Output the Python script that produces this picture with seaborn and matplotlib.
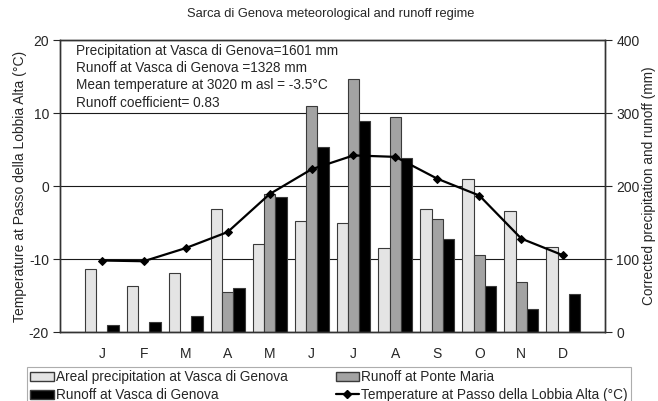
import numpy as np
import pandas as pd
import matplotlib
matplotlib.use("Agg")
import matplotlib.pyplot as plt
from matplotlib.patches import Patch
from matplotlib.lines import Line2D
import seaborn as sns

# monthly regime
months = ["Jan", "Feb", "Mar", "Apr", "May", "Jun", "Jul", "Aug", "Sep", "Oct", "Nov", "Dec"]
month_labels = ["J", "F", "M", "A", "M", "J", "J", "A", "S", "O", "N", "D"]
precip_vasca = [87, 63, 81, 168, 121, 152, 149, 115, 168, 210, 166, 116]
runoff_ponte = [np.nan, np.nan, np.nan, 55, 189, 310, 347, 294, 155, 105, 68, np.nan]
runoff_vasca = [10, 14, 22, 61, 185, 254, 289, 238, 128, 63, 31, 52]
temp_lobbia = [-10.2, -10.3, -8.5, -6.3, -1.1, 2.3, 4.2, 4.0, 1.0, -1.3, -7.2, -9.5]

series = ["Areal precipitation at Vasca di Genova", "Runoff at Ponte Maria", "Runoff at Vasca di Genova"]
temp_name = "Temperature at Passo della Lobbia Alta (°C)"
colors = ["#e4e4e4", "#a3a3a3", "#000000"]

info_lines = [
    "Precipitation at Vasca di Genova=1601 mm",
    "Runoff at Vasca di Genova =1328 mm",
    "Mean temperature at 3020 m asl = -3.5°C",
    "Runoff coefficient= 0.83",
]

bars = pd.DataFrame({
    "month": months * 3,
    "series": [series[0]] * 12 + [series[1]] * 12 + [series[2]] * 12,
    "value": precip_vasca + runoff_ponte + runoff_vasca,
})

sns.set_theme(style="white")
plt.rcParams["font.family"] = ["Liberation Sans", "DejaVu Sans"]
plt.rcParams["axes.unicode_minus"] = False

fig = plt.figure(figsize=(6.58, 4.01), dpi=100)
ax = fig.add_axes([0.0912, 0.172, 0.8283, 0.728])

sns.barplot(data=bars, x="month", y="value", hue="series", order=months, hue_order=series,
            palette=colors, width=0.81, gap=0, saturation=1, edgecolor="#3a3a3a",
            linewidth=0.8, legend=False, ax=ax)

ax2 = ax.twinx()
sns.lineplot(x=np.arange(len(months)), y=temp_lobbia, ax=ax2, color="black", lw=1.6,
             marker="D", markersize=4.5, markeredgecolor="black")

# precipitation / runoff axis on the right
ax.yaxis.tick_right()
ax.yaxis.set_label_position("right")
ax.set_ylim(0, 400)
ax.set_yticks([0, 100, 200, 300, 400])
ax.grid(axis="y", color="#1a1a1a", lw=0.8)
ax.set_axisbelow(True)
ax.set_xlabel("")
ax.set_ylabel("Corrected precipitation and runoff (mm)", fontsize=9.8, labelpad=2)
ax.set_xticks(range(len(months)))
ax.set_xticklabels(month_labels)
ax.tick_params(axis="x", length=0, pad=11, labelsize=10)
ax.tick_params(axis="y", right=True, length=5, width=0.8, direction="out", labelsize=10, pad=3)

# temperature axis on the left
ax2.yaxis.tick_left()
ax2.yaxis.set_label_position("left")
ax2.set_ylim(-20, 20)
ax2.set_yticks([-20, -10, 0, 10, 20])
ax2.set_xlabel("")
ax2.set_ylabel(temp_name, fontsize=10, labelpad=1)
ax2.tick_params(axis="y", left=True, length=5, width=0.8, direction="out", labelsize=10, pad=3)

for a in (ax, ax2):
    for s in a.spines.values():
        s.set_visible(True)
        s.set_color("#333333")
        s.set_linewidth(1.0)

fig.text(0.503, 1 - 14 / 401, "Sarca di Genova meteorological and runoff regime",
         ha="center", va="center", fontsize=9.3)
ax2.text(0.03, 0.988, "\n".join(info_lines), transform=ax2.transAxes, ha="left", va="top",
         fontsize=9.8, linespacing=1.3)

handles = [Patch(facecolor=colors[0], edgecolor="#3a3a3a", label=series[0]),
           Patch(facecolor=colors[2], edgecolor="#3a3a3a", label=series[2]),
           Patch(facecolor=colors[1], edgecolor="#3a3a3a", label=series[1]),
           Line2D([], [], color="black", lw=1.6, marker="D", markersize=4.5, label=temp_name)]
leg = fig.legend(handles=handles, loc="upper left", bbox_to_anchor=(0.041, -0.05, 0.918, 0.1348),
                 mode="expand", ncol=2, fontsize=9.8, frameon=True, fancybox=False,
                 borderaxespad=0, handlelength=1.7, handletextpad=0.15, labelspacing=0.28,
                 borderpad=0.25)
leg.get_frame().set_edgecolor("#999999")
leg.get_frame().set_linewidth(0.8)

fig.savefig("out.png", dpi=100)
